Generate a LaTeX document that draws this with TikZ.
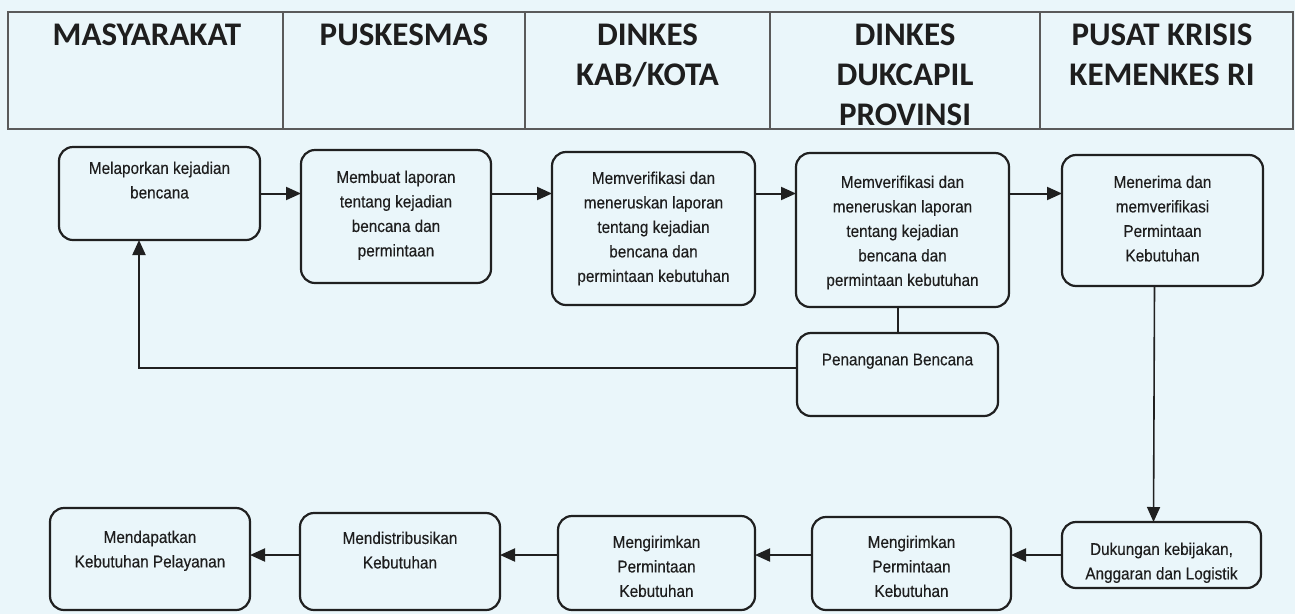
\documentclass[tikz,border=0pt]{standalone}
\usepackage{fontspec}
\usetikzlibrary{arrows.meta}
\newfontfamily\hdrfont{Carlito}
\newfontfamily\boxfont[FakeStretch=0.9,FakeBold=0.3]{Liberation Sans}
\definecolor{bg}{RGB}{234,246,250}
\definecolor{ink}{RGB}{32,32,32}
\definecolor{txt}{RGB}{30,30,30}
\definecolor{hline}{RGB}{90,90,90}
\newcommand{\bxt}[4]{\begin{minipage}[c][#2pt][t]{#1pt}\centering\vspace*{#3pt}#4\end{minipage}}
\tikzset{
  box/.style={draw=ink, line width=2.2pt, rounded corners=14pt, inner sep=0pt, outer sep=0pt,
    font=\boxfont\fontsize{17}{24.5}\selectfont, text=txt},
  hdr/.style={font=\hdrfont\bfseries\fontsize{33}{40}\selectfont, text=txt, align=center, inner sep=0pt, anchor=north},
  arr/.style={draw=ink, line width=2pt, -{Triangle[length=15pt,width=13pt]}},
  link/.style={draw=ink, line width=2pt},
  hdrline/.style={draw=hline, line width=1.5pt}
}
\begin{document}
\begin{tikzpicture}[x=1pt,y=-1pt]
\useasboundingbox (0,0) rectangle (1295,614);
\fill[bg] (0,0) rectangle (1295,614);
% header table
\draw[hdrline] (8,12) rectangle (1293,129);
\foreach \xx in {283,525,770,1040} \draw[hdrline] (\xx,12) -- (\xx,129);
\node[hdr] (h1) at (147,24) {MASYARAKAT};
\node[hdr] (h2) at (404,24) {PUSKESMAS};
\node[hdr] (h3) at (647.5,24) {DINKES\\KAB/KOTA};
\node[hdr] (h4) at (905,24) {DINKES\\DUKCAPIL\\PROVINSI};
\node[hdr] (h5) at (1162,24) {PUSAT KRISIS\\KEMENKES RI};
% row 1
\node[box] (A) at (159.5,193.5) {\bxt{201}{93}{14.6}{Melaporkan kejadian\\bencana}};
\node[box] (B) at (396,216.5) {\bxt{190}{133}{20.6}{Membuat laporan\\tentang kejadian\\bencana dan\\permintaan}};
\node[box] (C) at (653.5,228.5) {\bxt{203}{153}{19.6}{Memverifikasi dan\\meneruskan laporan\\tentang kejadian\\bencana dan\\permintaan kebutuhan}};
\node[box] (D) at (902.5,230) {\bxt{213}{154}{22.6}{Memverifikasi dan\\meneruskan laporan\\tentang kejadian\\bencana dan\\permintaan kebutuhan}};
\node[box] (E) at (1162.5,220.5) {\bxt{201}{131}{20.6}{Menerima dan\\memverifikasi\\Permintaan\\Kebutuhan}};
\node[box] (F) at (897.5,374.5) {\bxt{201}{83}{20.6}{Penanganan Bencana}};
% row 2
\node[box] (G) at (1161.5,555) {\bxt{199}{66}{20.6}{Dukungan kebijakan,\\Anggaran dan Logistik}};
\node[box] (H) at (911.5,563.5) {\bxt{199}{93}{18.6}{Mengirimkan\\Permintaan\\Kebutuhan}};
\node[box] (K) at (656.5,563) {\bxt{197}{94}{19.6}{Mengirimkan\\Permintaan\\Kebutuhan}};
\node[box] (J) at (400,561.5) {\bxt{200}{97}{18.6}{Mendistribusikan\\Kebutuhan}};
\node[box] (I) at (150,559) {\bxt{200}{102}{22.6}{Mendapatkan\\Kebutuhan Pelayanan}};
% connectors row 1
\draw[arr] (A.east) -- (A.east -| B.west);
\draw[arr] (B.east |- A.east) -- (C.west |- A.east);
\draw[arr] (C.east |- A.east) -- (D.west |- A.east);
\draw[arr] (D.east |- A.east) -- (E.west |- A.east);
% feedback
\draw[link] (D.south -| F.north) -- (F.north);
\coordinate (turn) at (139,368);
\draw[arr] (F.west |- turn) -- (turn) -- (turn |- A.south);
% down
\draw[arr, line width=1.6pt] ([xshift=-8pt]E.south) -- ([xshift=-8pt]G.north);
% row 2
\draw[arr] (G.west) -- (H.east |- G.west);
\draw[arr] (H.west |- G.west) -- (K.east |- G.west);
\draw[arr] (K.west |- G.west) -- (J.east |- G.west);
\draw[arr] (J.west |- G.west) -- (I.east |- G.west);
\end{tikzpicture}
\end{document}
